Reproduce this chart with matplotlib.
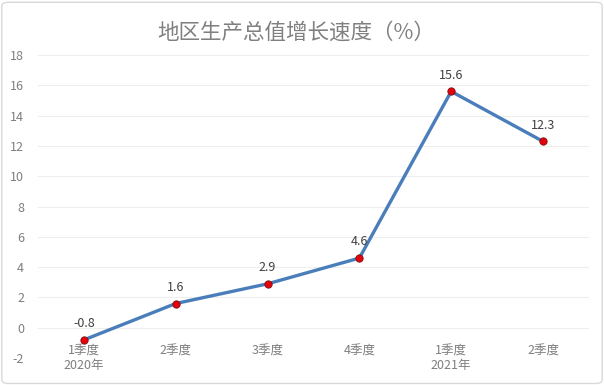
import matplotlib
matplotlib.use("Agg")
import matplotlib.pyplot as plt
from matplotlib.patches import FancyBboxPatch

plt.rcParams['font.family'] = ['Noto Sans CJK SC', 'DejaVu Sans']

categories = ["1季度\n2020年", "2季度", "3季度", "4季度", "1季度\n2021年", "2季度"]
values = [-0.8, 1.6, 2.9, 4.6, 15.6, 12.3]
yticks = [-2, 0, 2, 4, 6, 8, 10, 12, 14, 16, 18]
title = "地区生产总值增长速度（%）"

fig = plt.figure(figsize=(6.04, 3.85), dpi=100)
fig.patch.set_facecolor("white")
border = FancyBboxPatch((0.003, 0.004), 0.994, 0.99, boxstyle="round,pad=0,rounding_size=0.01",
                        transform=fig.transFigure, fill=False, edgecolor="#d9d9d9", linewidth=1)
fig.patches.append(border)

ax = fig.add_axes([0.063, 0.070, 0.912, 0.787])
x = list(range(len(categories)))
ax.plot(x, values, color="#4a7ebb", linewidth=2.4, zorder=3)
ax.scatter(x, values, s=28, color="#e8000b", edgecolor="#7a1010", linewidth=0.6, zorder=4)
for xi, v in zip(x, values):
    ax.annotate(f"{v:g}", (xi, v), xytext=(0, 7), textcoords="offset points",
                ha="center", va="bottom", fontsize=9, color="#404040")

ax.set_xlim(-0.5, len(categories) - 0.5)
ax.set_ylim(-2, 18)
ax.set_yticks(yticks)
ax.set_yticklabels([str(t) for t in yticks])
ax.set_xticks(x)
ax.set_xticklabels(categories, linespacing=1.45)
ax.grid(axis="y", color="#eeeeee", linewidth=0.8)
ax.set_axisbelow(True)
for s in ["top", "right", "left"]:
    ax.spines[s].set_visible(False)
ax.spines["bottom"].set_position(("data", 0))
ax.spines["bottom"].set_visible(False)
ax.tick_params(axis="both", length=0, colors="#7f7f7f", labelsize=9)
ax.tick_params(axis="x", pad=12)
ax.tick_params(axis="y", pad=10)
for lbl in ax.get_xticklabels():
    lbl.set_va("top")

fig.text(0.49, 0.915, title, ha="center", va="center", fontsize=15.5, color="#808080")

fig.savefig("out.png", dpi=100)
